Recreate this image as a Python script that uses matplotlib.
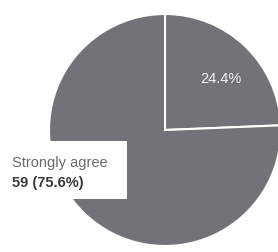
import matplotlib.pyplot as plt
from matplotlib.patches import Rectangle

# dados
labels = ['Other', 'Strongly agree']
counts = [19, 59]
total = sum(counts)
pcts = [100.0 * c / total for c in counts]

fig = plt.figure(figsize=(2.78, 2.53), dpi=100)
ax = fig.add_axes([0, 0, 1, 1])

# pizza
ax.pie(counts, colors=['#727279', '#727279'], startangle=90, counterclock=False,
       center=(165, 122), radius=116,
       wedgeprops=dict(edgecolor='white', linewidth=1.5))

# pie() mexe nos limites, então define depois
ax.set_xlim(0, 278)
ax.set_ylim(0, 253)
ax.set_aspect('equal')
ax.axis('off')

# rótulo da fatia menor
ax.text(221, 174, '%.1f%%' % pcts[0], color='#f0f0f0', fontsize=10.5,
        family='Liberation Sans', ha='center', va='center')

# caixa do rótulo maior
ax.add_patch(Rectangle((0, 53), 127, 58, facecolor='white', edgecolor='none', zorder=3))
ax.text(12, 90, labels[1], color='#6a6a6a', fontsize=10.5,
        family='Liberation Sans', va='center', zorder=4)
ax.text(12, 70, '%d (%.1f%%)' % (counts[1], pcts[1]), color='#3a3a3a', fontsize=10.5,
        fontweight='bold', family='Liberation Sans', va='center', zorder=4)

fig.savefig('out.png', dpi=100)
